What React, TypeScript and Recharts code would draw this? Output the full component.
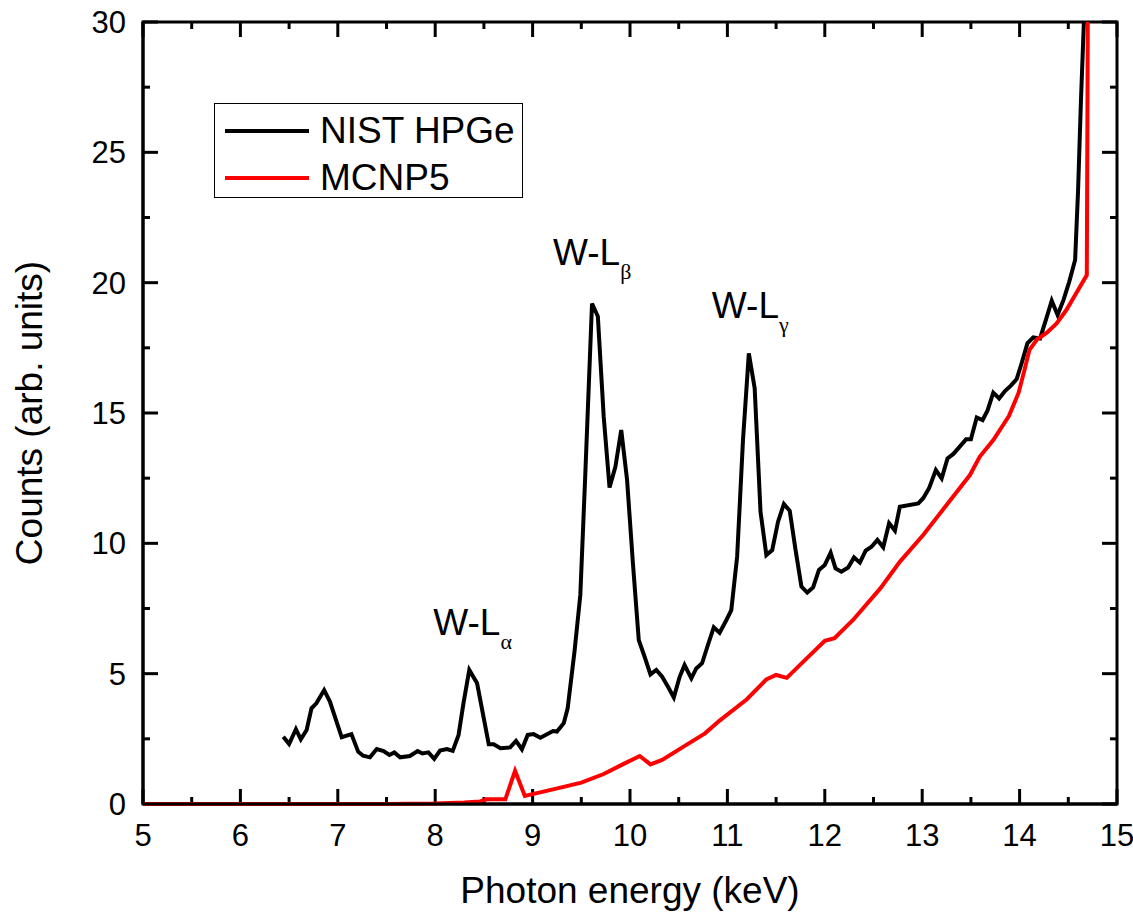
import React from 'react';
import { LineChart, Line, XAxis, YAxis, ReferenceDot, ReferenceLine, ReferenceArea } from 'recharts';

// NIST HPGe measured spectrum (keV, counts)
const nistEnergy = [
  6.44, 6.5, 6.57, 6.62, 6.68, 6.73, 6.78, 6.86, 6.92, 7.04, 7.14, 7.21, 7.26, 7.33, 7.4, 7.47,
  7.53, 7.58, 7.64, 7.74, 7.82, 7.87, 7.93, 7.99, 8.05, 8.12, 8.18, 8.24, 8.29, 8.35, 8.43, 8.55,
  8.6, 8.67, 8.77, 8.83, 8.89, 8.95, 9.01, 9.08, 9.21, 9.25, 9.32, 9.36, 9.43, 9.49, 9.54, 9.61,
  9.67, 9.73, 9.79, 9.85, 9.91, 9.97, 10.03, 10.09, 10.15, 10.21, 10.27, 10.33, 10.39, 10.45,
  10.51, 10.56, 10.63, 10.68, 10.74, 10.8, 10.86, 10.92, 10.99, 11.04, 11.1, 11.16, 11.22, 11.28,
  11.34, 11.4, 11.46, 11.52, 11.58, 11.64, 11.7, 11.76, 11.82, 11.88, 11.94, 12.0, 12.06, 12.11,
  12.17, 12.24, 12.3, 12.36, 12.42, 12.48, 12.54, 12.6, 12.66, 12.72, 12.77, 12.96, 13.01, 13.07,
  13.14, 13.2, 13.26, 13.32, 13.39, 13.45, 13.5, 13.56, 13.62, 13.67, 13.73, 13.79, 13.85, 13.91,
  13.97, 14.02, 14.08, 14.14, 14.21, 14.27, 14.33, 14.39, 14.45, 14.51, 14.57, 14.6, 14.63, 14.66,
];
const nistCounts = [
  2.58, 2.3, 2.87, 2.48, 2.84, 3.67, 3.86, 4.37, 3.92, 2.56, 2.68, 2.0, 1.85, 1.79, 2.11, 2.03,
  1.88, 1.98, 1.79, 1.84, 2.03, 1.94, 1.98, 1.73, 2.05, 2.11, 2.04, 2.65, 3.86, 5.14, 4.63, 2.29,
  2.29, 2.14, 2.17, 2.42, 2.1, 2.65, 2.68, 2.54, 2.8, 2.78, 3.1, 3.67, 5.84, 8.02, 12.55, 19.2,
  18.7, 14.86, 12.14, 12.94, 14.35, 12.43, 9.23, 6.29, 5.65, 4.97, 5.14, 4.88, 4.5, 4.09,
  4.88, 5.33, 4.82, 5.2, 5.4, 6.1, 6.78, 6.57, 7.06, 7.44, 9.49, 13.96, 17.29, 15.95,
  11.21, 9.55, 9.74, 10.83, 11.51, 11.25, 9.74, 8.34, 8.11, 8.31, 8.98, 9.17, 9.64, 9.04,
  8.91, 9.07, 9.46, 9.26, 9.72, 9.87, 10.13, 9.85, 10.77, 10.49, 11.4, 11.53, 11.73, 12.11,
  12.81, 12.49, 13.26, 13.43, 13.73, 13.99, 13.99, 14.83, 14.73, 15.09, 15.78, 15.56, 15.84, 16.05,
  16.3, 16.9, 17.67, 17.9, 17.86, 18.57, 19.31, 18.76, 19.33, 20.04, 20.87, 23.5, 27.0, 30,
];

// MCNP5 simulated spectrum
const mcnpEnergy = [
  5.0, 7.5, 8.0, 8.3, 8.46, 8.53, 8.72, 8.82, 8.92, 9.21, 9.5, 9.73, 9.93, 10.1, 10.21, 10.33,
  10.55, 10.77, 10.92, 11.2, 11.4, 11.5, 11.61, 11.78, 12.0, 12.1, 12.29, 12.57, 12.77, 13.01,
  13.25, 13.49, 13.59, 13.73, 13.89, 13.99, 14.05, 14.1, 14.18, 14.28, 14.38, 14.48, 14.59,
  14.69, 14.7,
];
const mcnpCounts = [
  0, 0, 0.02, 0.06, 0.1, 0.18, 0.18, 1.27, 0.31, 0.56, 0.82, 1.15, 1.53, 1.84, 1.52, 1.69,
  2.2, 2.71, 3.2, 4.02, 4.78, 4.95, 4.84, 5.46, 6.26, 6.36, 7.06, 8.27, 9.29, 10.32,
  11.47, 12.62, 13.32, 13.96, 14.88, 15.78, 16.65, 17.41, 17.83, 18.08, 18.44, 18.95, 19.65,
  20.29, 30,
];

const xMajor = [5, 6, 7, 8, 9, 10, 11, 12, 13, 14, 15];
const xMinor = [5.5, 6.5, 7.5, 8.5, 9.5, 10.5, 11.5, 12.5, 13.5, 14.5];
const yMajor = [0, 5, 10, 15, 20, 25, 30];
const yMinor = [2.5, 7.5, 12.5, 17.5, 22.5, 27.5];

const peakNames = ['α', 'β', 'γ'];
const peakLabelX = [7.98, 9.21, 10.84];
const peakLabelY = [6.48, 20.67, 18.64];

const seriesNames = ['NIST HPGe', 'MCNP5'];
const seriesColors = ['#000000', '#ff0000'];

const X_MIN = 5;
const X_MAX = 15;
const Y_MIN = 0;
const Y_MAX = 30;

const nistData = nistEnergy.map((x, i) => ({ x, y: nistCounts[i] }));
const mcnpData = mcnpEnergy.map((x, i) => ({ x, y: mcnpCounts[i] }));

const FONT = '"Liberation Sans", Arial, sans-serif';
const AXIS_W = 3;
// plot area is 974 x 782 px, tick lengths 15 / 7 px converted to data units
const PX_X = (X_MAX - X_MIN) / 974;
const PX_Y = (Y_MAX - Y_MIN) / 782;

type Seg = { key: string; segment: { x: number; y: number }[] };
const tickSegments: Seg[] = [];
[...xMajor.map((v) => [v, 15]), ...xMinor.map((v) => [v, 7])].forEach(([v, len]) => {
  tickSegments.push({ key: `xb${v}`, segment: [{ x: v, y: Y_MIN }, { x: v, y: Y_MIN + len * PX_Y }] });
  tickSegments.push({ key: `xt${v}`, segment: [{ x: v, y: Y_MAX }, { x: v, y: Y_MAX - len * PX_Y }] });
});
[...yMajor.map((v) => [v, 15]), ...yMinor.map((v) => [v, 7])].forEach(([v, len]) => {
  tickSegments.push({ key: `yl${v}`, segment: [{ x: X_MIN, y: v }, { x: X_MIN + len * PX_X, y: v }] });
  tickSegments.push({ key: `yr${v}`, segment: [{ x: X_MAX, y: v }, { x: X_MAX - len * PX_X, y: v }] });
});

const BottomLabel = (props: any) => {
  const { x, y, payload } = props;
  return (
    <text x={x} y={y + 42} textAnchor="middle" fontSize={31} fontFamily={FONT} fill="#000">
      {payload.value}
    </text>
  );
};

const LeftLabel = (props: any) => {
  const { x, y, payload } = props;
  return (
    <text x={x - 17} y={y + 11} textAnchor="end" fontSize={31} fontFamily={FONT} fill="#000">
      {payload.value}
    </text>
  );
};

const YTitle = (props: any) => {
  const vb = props.viewBox || {};
  const cy = (vb.y ?? 22) + (vb.height ?? 782) / 2;
  return (
    <text
      x={42}
      y={cy}
      transform={`rotate(-90, 42, ${cy})`}
      textAnchor="middle"
      fontSize={37}
      fontFamily={FONT}
      fill="#000"
    >
      Counts (arb. units)
    </text>
  );
};

const PeakLabel = (sub: string) => (props: any) => (
  <text x={props.cx} y={props.cy} fontSize={37} fontFamily={FONT} fill="#000">
    W-L
    <tspan fontSize={22} fontFamily='"Liberation Serif", serif' dy={14}>
      {sub}
    </tspan>
  </text>
);

const LegendBox = () => (
  <div
    style={{
      position: 'absolute',
      left: 214,
      top: 103,
      width: 309,
      height: 95,
      border: '1.5px solid #000',
      boxSizing: 'border-box',
      background: '#fff',
    }}
  >
    {seriesNames.map((name, i) => (
      <div key={name} style={{ position: 'absolute', left: 0, top: 27 + i * 47 - 22, height: 44, width: '100%' }}>
        <div
          style={{
            position: 'absolute',
            left: 10,
            top: 20,
            width: 84,
            height: 4,
            background: seriesColors[i],
          }}
        />
        <div
          style={{
            position: 'absolute',
            left: 105,
            top: 0,
            lineHeight: '44px',
            fontSize: 37,
            fontFamily: FONT,
            color: '#000',
            whiteSpace: 'nowrap',
          }}
        >
          {name}
        </div>
      </div>
    ))}
  </div>
);

export default function App() {
  return (
    <div style={{ position: 'absolute', left: 0, top: 0, width: 1133, height: 915, background: '#fff' }}>
      <LineChart width={1133} height={915} margin={{ top: 22, right: 16, bottom: 0, left: 0 }}>
        <XAxis
          dataKey="x"
          type="number"
          domain={[X_MIN, X_MAX]}
          ticks={xMajor}
          interval={0}
          height={111}
          tickSize={0}
          tickMargin={0}
          tickLine={false}
          axisLine={{ stroke: '#000', strokeWidth: AXIS_W }}
          tick={<BottomLabel />}
          label={{
            value: 'Photon energy (keV)',
            position: 'insideBottom',
            offset: 12,
            style: { fontSize: 37, fontFamily: FONT, fill: '#000' },
          }}
        />
        <YAxis
          type="number"
          domain={[Y_MIN, Y_MAX]}
          ticks={yMajor}
          interval={0}
          width={143}
          tickSize={0}
          tickMargin={0}
          tickLine={false}
          axisLine={{ stroke: '#000', strokeWidth: AXIS_W }}
          tick={<LeftLabel />}
          label={{ content: <YTitle /> }}
        />
        <ReferenceArea
          x1={X_MIN}
          x2={X_MAX}
          y1={Y_MIN}
          y2={Y_MAX}
          fill="none"
          fillOpacity={0}
          stroke="#000"
          strokeWidth={AXIS_W}
          ifOverflow="visible"
        />
        {tickSegments.map((t) => (
          <ReferenceLine
            key={t.key}
            segment={t.segment}
            stroke="#000"
            strokeWidth={AXIS_W}
            ifOverflow="visible"
          />
        ))}
        <Line
          data={nistData}
          dataKey="y"
          name={seriesNames[0]}
          type="linear"
          stroke={seriesColors[0]}
          strokeWidth={4}
          dot={false}
          isAnimationActive={false}
        />
        <Line
          data={mcnpData}
          dataKey="y"
          name={seriesNames[1]}
          type="linear"
          stroke={seriesColors[1]}
          strokeWidth={4}
          dot={false}
          isAnimationActive={false}
        />
        {peakNames.map((sub, i) => (
          <ReferenceDot key={sub} x={peakLabelX[i]} y={peakLabelY[i]} r={0} shape={PeakLabel(sub)} />
        ))}
      </LineChart>
      <LegendBox />
    </div>
  );
}
